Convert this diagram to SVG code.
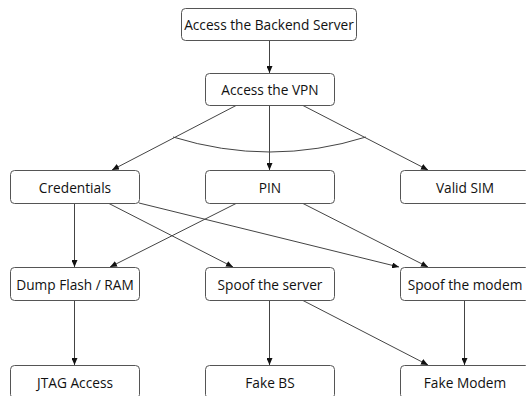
<svg xmlns="http://www.w3.org/2000/svg" width="526" height="396" viewBox="0 0 526 396">
<style>
.box{fill:#fff;stroke:#555;stroke-width:1}
.lbl{font-family:"Open Sans",sans-serif;font-size:13.7px;fill:#111;text-anchor:middle;dominant-baseline:central}
.e{fill:none;stroke:#444;stroke-width:1}
</style>
<defs>
<marker id="ah" markerWidth="7" markerHeight="6" refX="7" refY="3" orient="auto" markerUnits="userSpaceOnUse">
<path d="M0,0 L7,3 L0,6 z" fill="#111"/>
</marker>
</defs>
<rect width="526" height="396" fill="#fff"/>
<g id="edges">
<line class="e" x1="269.5" y1="40" x2="269.5" y2="73" marker-end="url(#ah)"/>
<line class="e" x1="237" y1="105" x2="112" y2="170" marker-end="url(#ah)"/>
<line class="e" x1="269.5" y1="105" x2="269.5" y2="170" marker-end="url(#ah)"/>
<line class="e" x1="302" y1="105" x2="428" y2="170" marker-end="url(#ah)"/>
<path class="e" d="M173,137 Q270,167 366,137"/>
<line class="e" x1="74.5" y1="203" x2="74.5" y2="267" marker-end="url(#ah)"/>
<line class="e" x1="108" y1="203" x2="233" y2="267" marker-end="url(#ah)"/>
<line class="e" x1="139" y1="203" x2="399" y2="267" marker-end="url(#ah)"/>
<line class="e" x1="237" y1="203" x2="110" y2="267" marker-end="url(#ah)"/>
<line class="e" x1="302" y1="203" x2="428" y2="267" marker-end="url(#ah)"/>
<line class="e" x1="74.5" y1="300" x2="74.5" y2="365" marker-end="url(#ah)"/>
<line class="e" x1="269.5" y1="300" x2="269.5" y2="365" marker-end="url(#ah)"/>
<line class="e" x1="302" y1="300" x2="428" y2="365" marker-end="url(#ah)"/>
<line class="e" x1="464.5" y1="300" x2="464.5" y2="365" marker-end="url(#ah)"/>
</g>
<g id="n-backend"><rect class="box" x="181.5" y="8.5" width="175" height="32" rx="4"/><text class="lbl" x="269" y="24.5">Access the Backend Server</text></g>
<g id="n-vpn"><rect class="box" x="205.5" y="73.5" width="129" height="32" rx="4"/><text class="lbl" x="270" y="89.5">Access the VPN</text></g>
<g id="n-cred"><rect class="box" x="10.5" y="170.5" width="129" height="33" rx="4"/><text class="lbl" x="75" y="187">Credentials</text></g>
<g id="n-pin"><rect class="box" x="205.5" y="170.5" width="129" height="33" rx="4"/><text class="lbl" x="270" y="187">PIN</text></g>
<g id="n-sim"><rect class="box" x="400.5" y="170.5" width="129" height="33" rx="4"/><text class="lbl" x="465" y="187">Valid SIM</text></g>
<g id="n-dump"><rect class="box" x="10.5" y="267.5" width="129" height="33" rx="4"/><text class="lbl" x="75" y="284">Dump Flash / RAM</text></g>
<g id="n-sserver"><rect class="box" x="205.5" y="267.5" width="129" height="33" rx="4"/><text class="lbl" x="270" y="284">Spoof the server</text></g>
<g id="n-smodem"><rect class="box" x="400.5" y="267.5" width="129" height="33" rx="4"/><text class="lbl" x="465" y="284">Spoof the modem</text></g>
<g id="n-jtag"><rect class="box" x="10.5" y="365.5" width="129" height="33" rx="4"/><text class="lbl" x="75" y="382">JTAG Access</text></g>
<g id="n-fakebs"><rect class="box" x="205.5" y="365.5" width="129" height="33" rx="4"/><text class="lbl" x="270" y="382">Fake BS</text></g>
<g id="n-fakemodem"><rect class="box" x="400.5" y="365.5" width="129" height="33" rx="4"/><text class="lbl" x="465" y="382">Fake Modem</text></g>
</svg>
